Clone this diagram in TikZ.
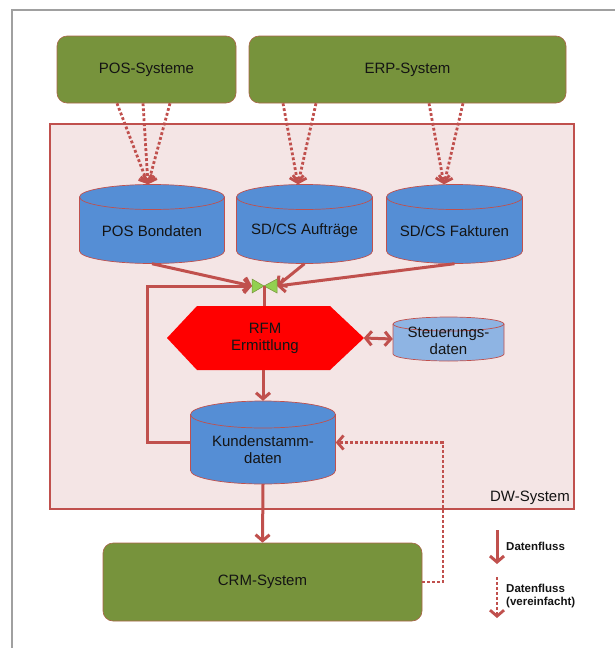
\documentclass[tikz,border=0pt]{standalone}
\usepackage{fontspec}
\setmainfont{Liberation Sans}
\usetikzlibrary{arrows.meta,calc}
\definecolor{arr}{HTML}{C0504D}
\definecolor{olive}{HTML}{77933C}
\definecolor{cylblue}{HTML}{558ED5}
\definecolor{cyllight}{HTML}{8EB4E3}
\definecolor{dwfill}{HTML}{F4E5E5}
\definecolor{jgreen}{HTML}{92D050}
\definecolor{framegray}{HTML}{A0A0A0}
\definecolor{txt}{HTML}{141414}
\tikzset{
  sysbox/.style={draw=arr!70!olive, line width=0.6pt, fill=olive, rounded corners=10pt, inner sep=0pt, font=\fontsize{15}{17}\selectfont, text=txt},
  cyltext/.style={font=\fontsize{15}{17}\selectfont, align=center, text=txt, inner sep=0pt},
  flow/.style={draw=arr, line width=3pt, -{Straight Barb[length=6pt,width=14pt]}},
  dotflow/.style={flow, line width=2.8pt, dash pattern=on 2.8pt off 2.2pt},
  legtext/.style={font=\bfseries\fontsize{11.5}{13.5}\selectfont, text=txt, anchor=west, align=left, inner sep=0pt},
}
% name, cx, cy, w, h, ry, fill, text shift, text
\newcommand\dbcyl[9]{%
  \filldraw[fill=#7, draw=arr, line width=0.7pt]
    ({#2-#4/2},{#3-#5/2+#6}) -- ({#2-#4/2},{#3+#5/2-#6})
    arc[start angle=180, end angle=0, x radius={#4/2*1pt}, y radius={#6*1pt}]
    -- ({#2+#4/2},{#3-#5/2+#6})
    arc[start angle=0, end angle=-180, x radius={#4/2*1pt}, y radius={#6*1pt}] -- cycle;
  \draw[arr, line width=0.7pt] ({#2-#4/2},{#3-#5/2+#6})
    arc[start angle=180, end angle=0, x radius={#4/2*1pt}, y radius={#6*1pt}];
  \node[minimum width=#4, minimum height=#5, inner sep=0pt] (#1) at (#2,#3) {};
  \node[cyltext] (#1-t) at (#2,{#3+#8}) {#9};
}
\begin{document}
\begin{tikzpicture}[x=1pt,y=1pt,yscale=-1]
\useasboundingbox (0,0) rectangle (615,648);
% outer frame
\draw[framegray, line width=1.5pt] (12,648) -- (12,10) -- (615,10);
% DW system
\draw[draw=arr, line width=2.5pt, fill=dwfill] (50,124) rectangle (574,509);
\node[anchor=south east, font=\fontsize{15}{17}\selectfont, text=txt, inner sep=0pt] (dwlab) at (570,505) {DW-System};
% source systems
\node[sysbox, minimum width=179, minimum height=67] (possys) at (146.5,69.5) {POS-Systeme};
\node[sysbox, minimum width=317, minimum height=67] (erp) at (407.5,69.5) {ERP-System};
\node[sysbox, minimum width=319, minimum height=78] (crm) at (262.5,582) {CRM-System};
% databases
\dbcyl{pos}{152}{224}{145}{79}{12.5}{cylblue}{7}{POS Bondaten}
\dbcyl{auf}{304.5}{224}{136}{79}{12.5}{cylblue}{7}{SD/CS Aufträge}
\dbcyl{fak}{454.5}{224}{136}{79}{12.5}{cylblue}{7}{SD/CS Fakturen}
\dbcyl{steu}{448.5}{339}{111}{44}{7}{cyllight}{2}{Steuerungs-\\daten}
\dbcyl{kun}{263}{442.5}{145}{83}{13.5}{cylblue}{7.5}{Kundenstamm-\\daten}
% hexagon
\fill[red] (167,338) -- (197,306) -- (330,306) -- (364,338) -- (330,370) -- (197,370) -- cycle;
\node[cyltext, minimum width=197, minimum height=64] (hex) at (265,338) {RFM\\Ermittlung};
% dotted inputs
\foreach \s in {-29.5,-3.5,23.5}
  \draw[dotflow] ([xshift=\s]possys.south) -- ([xshift=-4]pos.north);
\foreach \s in {-124.5,-91.5}
  \draw[dotflow] ([xshift=\s]erp.south) -- ([xshift=-6.5]auf.north);
\foreach \s in {21.5,55.5}
  \draw[dotflow] ([xshift=\s]erp.south) -- ([xshift=-10.5]fak.north);
% junction
\coordinate (jl) at (252,286);
\coordinate (jr) at (277,286);
\coordinate (jc) at (264,286);
\draw[flow] (pos.south) -- (jl);
\draw[flow] (auf.south) -- (jr);
\draw[flow] (fak.south) -- (jr);
\draw[flow] (kun.west) -- ++(-43,0) |- (jl);
\filldraw[fill=jgreen, draw=olive, line width=0.5pt] (252,279) -- (jc) -- (252,293) -- cycle;
\filldraw[fill=jgreen, draw=olive, line width=0.5pt] (277,279) -- (jc) -- (277,293) -- cycle;
\draw[arr, line width=3pt] (jc) -- (jc |- hex.north);
% main flow
\draw[flow, {Straight Barb[length=6pt,width=14pt]}-{Straight Barb[length=6pt,width=14pt]}] (hex.east) -- (steu.west);
\draw[flow] (kun.north |- hex.south) -- (kun.north);
\draw[flow] (kun.south) -- (crm.north);
\draw[dotflow] (crm.east) -- (443,582) |- (kun.east);
% legend
\coordinate (l1a) at (497,530);
\coordinate (l1b) at (497,564);
\coordinate (l2a) at (497,577);
\coordinate (l2b) at (497,618);
\draw[flow] (l1a) -- (l1b);
\draw[dotflow] (l2a) -- (l2b);
\node[legtext] (leg1) at (506,546) {Datenfluss};
\node[legtext] (leg2) at (506,596) {Datenfluss\\(vereinfacht)};
\end{tikzpicture}
\end{document}
